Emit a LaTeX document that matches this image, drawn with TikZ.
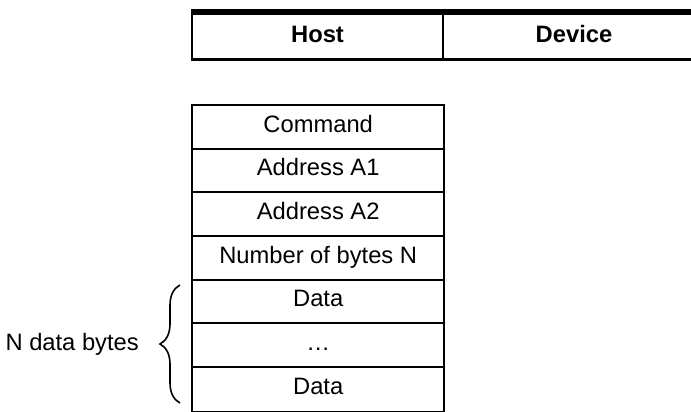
\documentclass[tikz,border=0pt]{standalone}
\usepackage{fontspec}
\setmainfont{Liberation Sans}
\usetikzlibrary{positioning}
\usetikzlibrary{decorations,decorations.pathreplacing}

\begin{document}
\begin{tikzpicture}[x=0.75pt,y=-0.75pt,
		font=\fontsize{17.8pt}{21pt}\selectfont,
		cell/.style={draw,line width=1.5pt,inner sep=0pt,outer sep=0pt,minimum width=188.8pt,minimum height=32.7pt,text height=12.75pt,text depth=4.75pt},
		head/.style={draw,line width=1.5pt,inner sep=0pt,outer sep=0pt,minimum height=35.85pt,text height=12.75pt,text depth=3.6pt,font=\fontsize{17.8pt}{21pt}\selectfont\bfseries}]
	\useasboundingbox (0,0) rectangle (691,411);
	\clip (0,0) rectangle (691,411);
	% header
	\node[head,minimum width=188.25pt] (host) at (317.5,35.9) {Host};
	\node[head,minimum width=196.5pt,right=0pt of host] (device) {Device};
	\draw[line width=4.5pt] ([xshift=-0.75pt]host.north west) -- (device.north east);
	\draw[line width=2.25pt] ([xshift=-0.75pt]host.south west) -- (device.south east);
	% frame
	\node[cell] (cmd) at (318.2,126.9) {Command};
	\node[cell,below=0pt of cmd] (addrA) {Address A1};
	\node[cell,below=0pt of addrA] (addrB) {Address A2};
	\node[cell,below=0pt of addrB] (nbytes) {Number of bytes N};
	\node[cell,below=0pt of nbytes] (dataA) {Data};
	\node[cell,below=0pt of dataA] (dots) {…};
	\node[cell,below=0pt of dots,minimum height=34pt] (dataB) {Data};
	% brace
	\coordinate (BT) at (180,285);
	\coordinate (BB) at (180,403);
	\draw[decorate,decoration={brace,amplitude=15pt},line width=1.2pt] (BB) -- (BT);
	\node[anchor=east,text height=12.75pt,text depth=4.75pt] (lbl) at (143.5,345) {N data bytes};
\end{tikzpicture}
\end{document}
